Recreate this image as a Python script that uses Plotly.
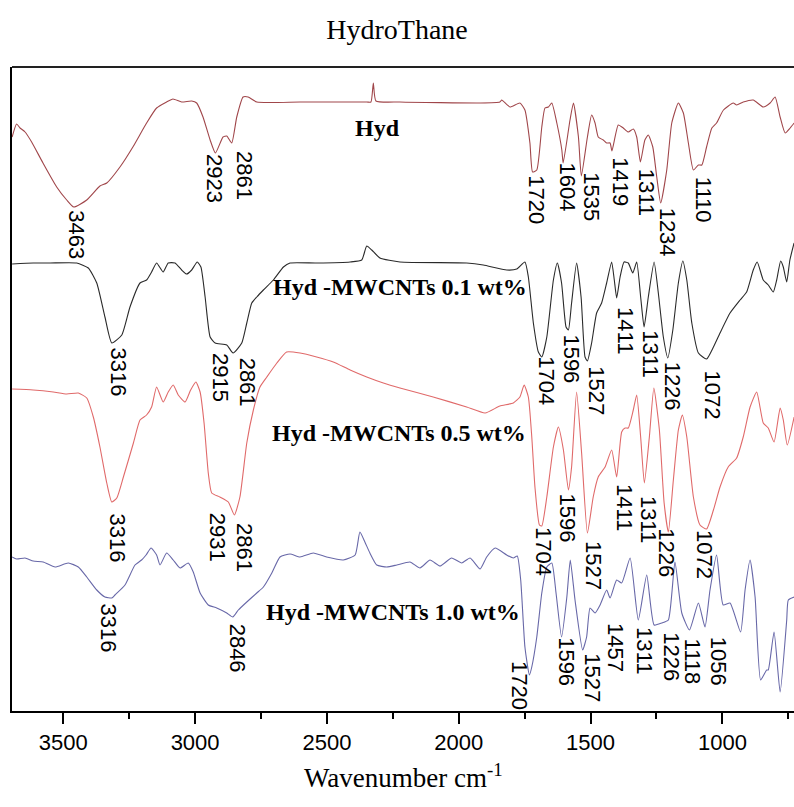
import plotly.graph_objects as go

# ---------------- data (wavenumber cm-1, intensity a.u. with stacking offset) ----------------
hyd_wn = [3694,3677,3664,3645,3620,3577,3525,3487,3460,3411,3361,3335,3285,3236,3184,3146,3108,3084,3051,3013,
          2994,2970,2943,2923,2894,2880,2861,2842,2818,2799,2766,2602,2349,2333,2324,2314,2223,1919,1844,1837,
          1806,1768,1749,1730,1720,1704,1685,1673,1660,1647,1628,1609,1604,1578,1565,1546,1535,1512,1496,1483,
          1471,1452,1439,1426,1419,1395,1376,1357,1338,1325,1311,1294,1281,1264,1249,1234,1211,1192,1167,1148,
          1129,1110,1091,1078,1060,1040,1022,996,959,946,921,883,845,819,800,781,762,743,728]
hyd_int = [574,587,583,579,569,548,524,511,504,511,525,528,544,564,588,603,609,612,609,610,
           608,594,571,558,574,575,568,594,614,614,609,609,609,609,628,610,609,608,609,611,
           604,608,601,568,539,541,584,603,604,608,588,561,548,591,608,574,535,574,596,588,
           574,571,568,568,560,586,583,579,582,574,549,571,576,564,534,508,541,588,608,598,
           568,541,546,546,564,583,588,601,608,606,609,611,604,608,614,594,578,583,588]

c01_wn = [3694,3614,3550,3449,3405,3373,3342,3316,3278,3247,3209,3184,3165,3146,3121,3102,3076,3051,3032,3013,
          2992,2978,2962,2943,2924,2880,2856,2823,2804,2785,2766,2741,2703,2665,2640,2539,2412,2368,2349,2330,
          2299,2223,1970,1907,1818,1780,1749,1736,1717,1698,1685,1666,1641,1626,1610,1593,1584,1572,1553,1536,
          1521,1512,1496,1477,1458,1439,1420,1410,1401,1388,1373,1357,1340,1325,1310,1297,1281,1259,1243,1224,
          1207,1188,1167,1150,1135,1116,1091,1060,1034,1009,971,933,908,883,868,845,826,807,794,779,769,756,744,728]
c01_int = [447,448,448,448,443,428,394,368,376,404,428,431,439,448,439,448,448,441,437,441,
           449,444,414,374,368,366,358,368,388,408,414,421,431,444,448,448,449,451,465,461,
           453,449,448,446,441,442,449,434,388,359,354,374,431,448,428,384,381,408,448,414,
           354,350,368,398,408,428,449,431,413,434,449,448,438,449,414,384,414,449,418,374,
           353,381,428,450,431,388,358,352,364,378,398,411,419,441,449,431,426,419,431,450,444,429,451,468]

c05_wn = [3694,3614,3538,3487,3443,3411,3386,3361,3335,3316,3297,3272,3234,3209,3184,3165,3146,3121,3102,3083,
          3064,3038,3017,2997,2981,2966,2950,2937,2906,2874,2851,2830,2804,2779,2754,2728,2690,2653,2602,2539,
          2476,2412,2349,2286,2223,2097,1970,1900,1844,1793,1768,1752,1736,1723,1711,1694,1685,1666,1641,1622,
          1603,1584,1572,1553,1534,1512,1490,1471,1445,1420,1401,1382,1369,1357,1338,1325,1310,1296,1277,1260,
          1239,1221,1205,1186,1167,1152,1135,1110,1085,1060,1034,1009,978,946,921,895,870,845,826,804,781,769,754,728]
c05_int = [322,321,319,317,318,313,294,264,228,209,213,234,268,291,296,304,324,309,319,326,
           316,309,321,329,319,288,238,218,214,209,196,214,268,301,324,334,348,359,358,354,
           349,341,334,328,323,314,304,298,305,308,314,326,314,274,224,186,185,214,264,284,
           261,221,244,319,258,178,214,234,244,261,234,279,283,283,301,316,274,228,274,323,
           281,208,179,231,281,296,274,214,186,182,201,224,244,253,274,304,319,288,283,269,303,291,266,294]

c10_wn = [3694,3677,3645,3614,3576,3531,3481,3443,3411,3373,3342,3316,3304,3266,3228,3203,3186,3167,3146,3133,
          3108,3083,3057,3026,3007,2981,2950,2918,2880,2857,2836,2804,2766,2741,2709,2678,2640,2602,2552,2501,
          2438,2393,2375,2356,2337,2311,2273,2235,2185,2147,2109,2071,2027,1989,1957,1919,1894,1862,1818,1793,
          1778,1765,1749,1732,1723,1704,1685,1666,1647,1631,1610,1590,1577,1559,1530,1515,1502,1483,1464,1439,
          1426,1401,1382,1350,1319,1287,1259,1230,1205,1180,1154,1125,1091,1066,1047,1022,997,971,931,914,
          895,876,855,832,826,804,781,756,750,728]
c10_int = [154,152,153,150,149,144,148,144,134,121,114,113,116,126,146,151,156,163,156,146,
           158,151,143,148,139,118,106,103,98,94,101,109,118,124,138,154,157,154,158,154,
           151,156,179,169,158,146,144,146,149,143,151,145,153,148,153,142,154,163,156,153,
           155,131,64,36,44,74,118,144,148,118,74,114,151,111,61,74,103,98,106,121,
           113,131,128,153,91,136,86,88,91,149,98,81,108,84,121,156,106,108,79,121,
           151,114,31,41,41,79,19,91,111,114]

series_names = ["Hyd", "Hyd -MWCNTs 0.1 wt%", "Hyd -MWCNTs 0.5 wt%", "Hyd -MWCNTs 1.0 wt%"]

# peak labels (text) and where they sit (data coords)
hyd_peaks = ["3463","2923","2861","1720","1604","1535","1419","1311","1234","1110"]
hyd_peak_x = [3449,2925,2811,1704,1584,1496,1386,1285,1205,1069]
hyd_peak_y = [476,532,535,511,524,514,529,519,479,511]

c01_peaks = ["3316","2915","2861","1704","1596","1527","1411","1311","1226","1072"]
c01_peak_x = [3287,2902,2798,1666,1572,1477,1366,1272,1186,1034]
c01_peak_y = [339,333,329,330,352,320,380,357,325,316]

c05_peaks = ["3316","2931","2861","1704","1596","1527","1411","1311","1226","1072"]
c05_peak_x = [3291,2912,2811,1677,1584,1487,1369,1278,1211,1066]
c05_peak_y = [173,174,163,159,193,146,204,192,158,156]

c10_peaks = ["3316","2846","1720","1596","1527","1457","1311","1226","1118","1056"]
c10_peak_x = [3325,2836,1768,1590,1492,1404,1294,1192,1110,1012]
c10_peak_y = [83,63,25,49,33,63,60,54,49,50]

name_x = [2310, 2223, 2228, 2249]
name_y = [583, 424, 278, 99]

colors = ["#A0464A", "#2A2A2A", "#E06A6A", "#6868A8"]

x_ticks = [3500, 3000, 2500, 2000, 1500, 1000]
x_minor = [3250, 2750, 2250, 1750, 1250, 750]

# ---------------- figure ----------------
fig = go.Figure()
for wn, inten, col, nm in [(hyd_wn, hyd_int, colors[0], series_names[0]),
                           (c01_wn, c01_int, colors[1], series_names[1]),
                           (c05_wn, c05_int, colors[2], series_names[2]),
                           (c10_wn, c10_int, colors[3], series_names[3])]:
    fig.add_trace(go.Scatter(x=wn, y=inten, mode="lines", name=nm,
                             line=dict(color=col, width=1.1, shape="spline", smoothing=0.5),
                             showlegend=False, hoverinfo="skip"))

annotations = []
for texts, xs, ys in [(hyd_peaks, hyd_peak_x, hyd_peak_y), (c01_peaks, c01_peak_x, c01_peak_y),
                      (c05_peaks, c05_peak_x, c05_peak_y), (c10_peaks, c10_peak_x, c10_peak_y)]:
    for t, xv, yv in zip(texts, xs, ys):
        annotations.append(dict(x=xv, y=yv, xref="x", yref="y", text=t, textangle=90,
                                showarrow=False, xanchor="center", yanchor="middle",
                                font=dict(family="Liberation Sans, Arial", size=22, color="black")))
for nm, xv, yv in zip(series_names, name_x, name_y):
    annotations.append(dict(x=xv, y=yv, xref="x", yref="y", text="<b>" + nm + "</b>",
                            showarrow=False, xanchor="center", yanchor="middle",
                            font=dict(family="Liberation Serif, Times New Roman", size=24, color="black")))
annotations.append(dict(x=0.5, y=-0.101, xref="paper", yref="paper", text="Wavenumber cm<sup>-1</sup>",
                        showarrow=False, xanchor="center", yanchor="middle",
                        font=dict(family="Liberation Serif, Times New Roman", size=27, color="black")))

fig.update_layout(
    width=794, height=807,
    margin=dict(l=12, r=0, t=67, b=96),
    paper_bgcolor="white", plot_bgcolor="white",
    title=dict(text="HydroThane", x=0.5, xref="container", y=1 - 29 / 807, yref="container",
               xanchor="center", yanchor="middle",
               font=dict(family="Liberation Serif, Times New Roman", size=28, color="black")),
    annotations=annotations,
    shapes=[dict(type="line", xref="paper", yref="paper", x0=0, x1=1, y0=1, y1=1,
                 line=dict(color="#222", width=2))],
)
fig.update_xaxes(range=[3694.5, 728.4], showgrid=False, zeroline=False,
                 showline=True, linecolor="black", linewidth=2,
                 ticks="outside", ticklen=11, tickwidth=1.5, tickcolor="black",
                 tickvals=x_ticks, ticktext=[str(v) for v in x_ticks],
                 tickfont=dict(family="Liberation Sans, Arial", size=22, color="black"),
                 minor=dict(ticks="outside", ticklen=6, tickwidth=1.5, tickcolor="black",
                            tickvals=x_minor, showgrid=False))
fig.update_yaxes(range=[0, 644], showgrid=False, zeroline=False, showticklabels=False,
                 showline=True, linecolor="black", linewidth=2, ticks="")

fig.write_html("out.html")
